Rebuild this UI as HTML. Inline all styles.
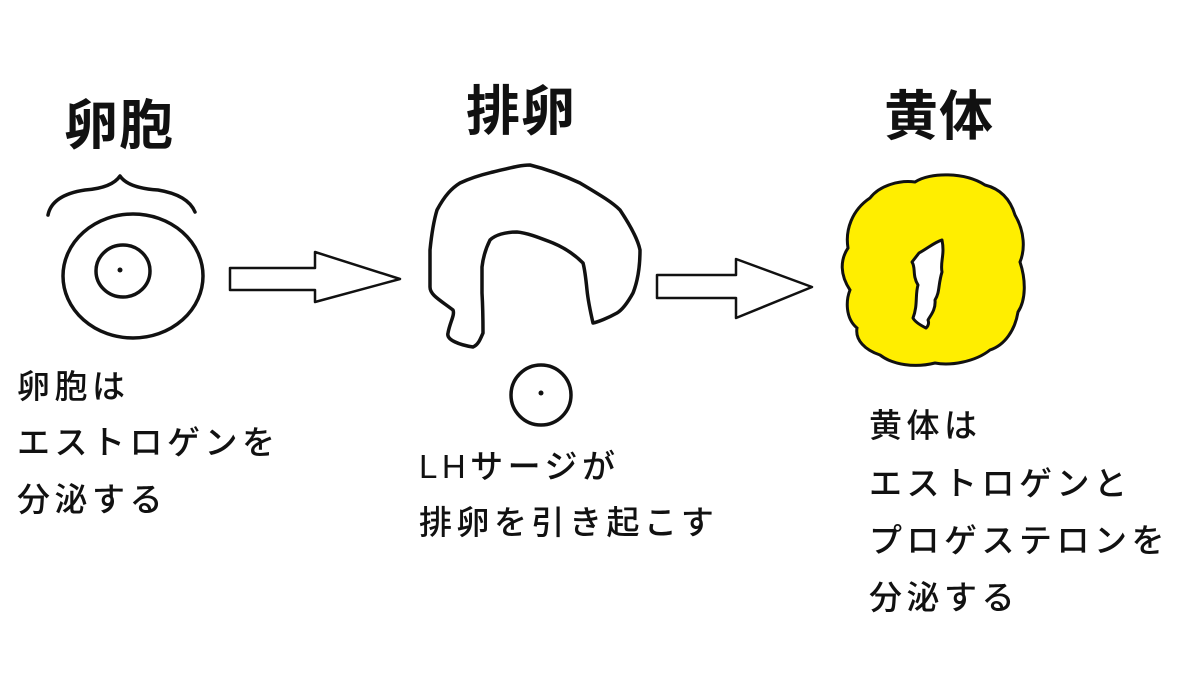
<!DOCTYPE html>
<html><head><meta charset="utf-8"><style>
html,body{margin:0;padding:0;background:#fff;}
svg{display:block}
text{font-family:"Liberation Sans","Noto Sans CJK JP",sans-serif;fill:#111;}
.t{font-size:54px;font-weight:bold;letter-spacing:1px;}
.b{font-size:33px;letter-spacing:4.5px;font-weight:500;}
</style></head><body>
<svg width="1200" height="700" viewBox="0 0 1200 700" xmlns="http://www.w3.org/2000/svg">
<rect width="1200" height="700" fill="#fff"/>
<text class="t" x="64" y="144">卵胞</text>
<text class="t" x="466" y="130">排卵</text>
<text class="t" x="884" y="135">黄体</text>

<g fill="none" stroke="#111" stroke-width="3.5" stroke-linecap="round" stroke-linejoin="round">
<path d="M48,215 Q52,195 85,190 Q112,188 120,176 Q128,188 158,190 Q188,195 195,212"/>
<ellipse cx="133" cy="276" rx="70" ry="62"/>
<ellipse cx="123" cy="271" rx="27" ry="26"/>
<path d="M230,268 H315 V252 L400,279 L315,302 V290 H230 Z" stroke-width="2.5"/>
<path d="M657,275 H736 V259 L812,287 L736,318 V298 H657 Z" stroke-width="2.5"/>
<path d="M473,347 C460,345 446,340 448,333 C450,322 455,315 453,310 C440,300 430,295 430,287 C430,270 430,260 430,250 C432,230 434,220 437,210 C445,195 452,188 460,183 C475,176 485,174 493,172 C510,168 520,165 530,165 C550,170 565,176 580,183 C600,195 612,202 620,210 C632,228 638,240 640,250 C640,270 637,283 633,293 C628,302 622,310 617,313 C608,318 598,322 593,323 C590,310 588,300 587,290 C586,280 585,270 583,263 C575,255 565,248 553,243 C540,238 528,233 517,232 C505,232 495,235 490,240 C485,250 483,258 482,267 C482,278 482,285 482,293 C483,310 483,325 483,333 C480,340 478,345 473,347 Z"/>
<circle cx="541" cy="395" r="30"/>
</g>
<circle cx="120" cy="270" r="2.5" fill="#111"/>
<circle cx="541" cy="393" r="2.5" fill="#111"/>

<path d="M870,198 C880,185 900,180 915,182 C930,172 965,172 985,185 C1005,190 1012,205 1015,215 C1025,232 1025,250 1020,262 C1026,280 1026,300 1018,312 C1015,330 1005,345 990,350 C975,362 950,366 935,363 C915,368 893,365 880,355 C865,350 855,340 857,328 C845,318 846,300 850,290 C840,275 840,260 848,248 C845,230 852,210 870,198 Z" fill="#ffee00" stroke="#111" stroke-width="3"/>
<path d="M919,253 C928,248 935,242 942,240 C945,255 940,262 942,272 C938,285 940,292 935,300 C936,310 930,316 928,320 C930,325 926,328 926,328 C920,325 915,322 913,318 C918,305 915,295 918,285 C912,275 916,268 912,262 Z" fill="#fff" stroke="#111" stroke-width="3" stroke-linejoin="round"/>

<text class="b" x="17" y="398">卵胞は</text>
<text class="b" x="17" y="454">エストロゲンを</text>
<text class="b" x="17" y="511">分泌する</text>
<text class="b" x="419" y="478">LHサージが</text>
<text class="b" x="419" y="534">排卵を引き起こす</text>
<text class="b" x="869" y="437">黄体は</text>
<text class="b" x="869" y="495">エストロゲンと</text>
<text class="b" x="869" y="552">プロゲステロンを</text>
<text class="b" x="869" y="609">分泌する</text>
</svg>
</body></html>
